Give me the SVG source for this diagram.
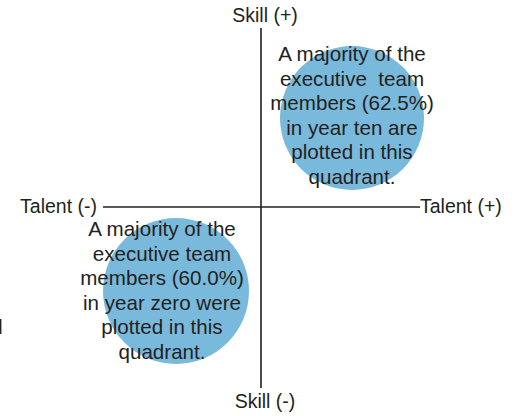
<svg xmlns="http://www.w3.org/2000/svg" width="515" height="416" viewBox="0 0 515 416">
<style>
text{font-family:"Liberation Sans",Arial,sans-serif;fill:#231f20}
.lbl{font-size:19.5px}
.body{font-size:20.6px;text-anchor:middle}
.pre{white-space:pre}
.axis{stroke:#231f20;stroke-width:1.6;fill:none}
.blob{fill:#79b9dc}
</style>
<rect width="515" height="416" fill="#fff"/>
<g id="connectors">
<line class="axis" x1="261" y1="28" x2="261" y2="388"/>
<line class="axis" x1="103" y1="207" x2="420" y2="207"/>
</g>
<g id="quadrant-top-right">
<circle class="blob" cx="352" cy="118" r="72"/>
<text class="body"><tspan x="352" y="61">A majority of the</tspan><tspan class="pre" x="352" y="85.5">executive  team</tspan><tspan x="352" y="110">members (62.5%)</tspan><tspan x="352" y="134.5">in year ten are</tspan><tspan x="352" y="159">plotted in this</tspan><tspan x="352" y="183.5">quadrant.</tspan></text>
</g>
<g id="quadrant-bottom-left">
<circle class="blob" cx="176" cy="291" r="73"/>
<text class="body"><tspan x="162" y="236">A majority of the</tspan><tspan x="162" y="260.5">executive team</tspan><tspan x="162" y="285">members (60.0%)</tspan><tspan x="162" y="309.5">in year zero were</tspan><tspan x="162" y="334">plotted in this</tspan><tspan x="162" y="358.5">quadrant.</tspan></text>
</g>
<g id="skill-plus"><text class="lbl" x="265" y="22" text-anchor="middle">Skill (+)</text></g>
<g id="skill-minus"><text class="lbl" x="265" y="408" text-anchor="middle">Skill (-)</text></g>
<g id="talent-minus"><text class="lbl" x="97" y="213" text-anchor="end">Talent (-)</text></g>
<g id="talent-plus"><text class="lbl" x="420" y="213">Talent (+)</text></g>
<g id="clipped"><text class="lbl" x="2.5" y="334" text-anchor="end">d</text></g>
</svg>
